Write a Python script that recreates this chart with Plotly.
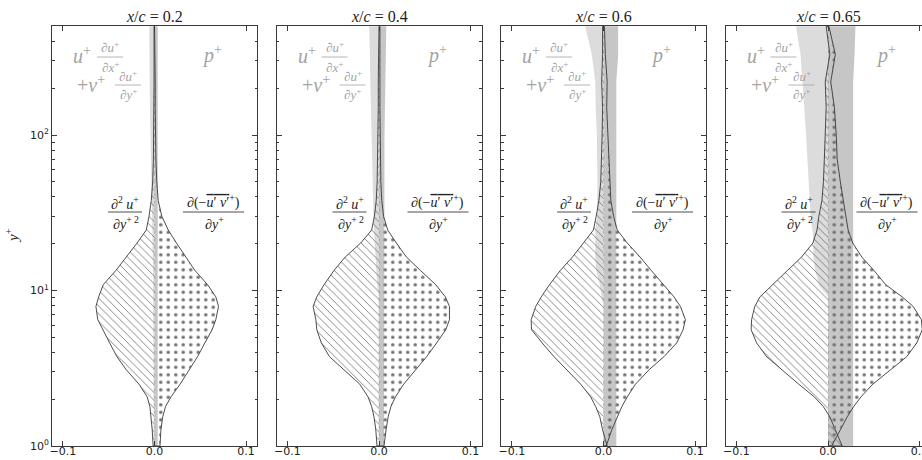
import plotly.graph_objects as go

# ---------------- data ----------------
Y_PLUS = [1.0, 1.27, 1.54, 1.79, 2.07, 2.5, 3.1, 3.75, 4.6, 5.6, 6.5, 7.9, 9.1, 10.9,
          13.5, 16.4, 20.2, 24.5, 30, 38, 50, 70, 100, 150, 220, 330, 500]

PANEL_TITLES = ["0.2", "0.4", "0.6", "0.65"]

# viscous term  d2u+/dy+2
VISC_02 = [-0.0015, -0.0025, -0.0035, -0.005, -0.008, -0.017, -0.031, -0.041, -0.049, -0.056,
           -0.062, -0.064, -0.061, -0.056, -0.042, -0.031, -0.019, -0.009, -0.006, -0.0035,
           -0.002, -0.0012, -0.0008, -0.0006, -0.0005, -0.0005, -0.0005]
VISC_04 = [-0.0022, -0.0035, -0.0055, -0.008, -0.012, -0.021, -0.039, -0.054, -0.063, -0.068,
           -0.069, -0.072, -0.068, -0.060, -0.049, -0.037, -0.020, -0.008, -0.005, -0.003,
           -0.002, -0.0015, -0.001, -0.0008, -0.0008, -0.0007, -0.0007]
VISC_06 = [0.004, -0.001, -0.004, -0.0085, -0.014, -0.025, -0.041, -0.054, -0.067, -0.0787,
           -0.079, -0.074, -0.068, -0.059, -0.047, -0.034, -0.022, -0.011, -0.008, -0.005,
           -0.003, -0.002, -0.0015, -0.001, -0.002, -0.001, -0.001]
VISC_065 = [0.0155, 0.008, 0.002, -0.005, -0.015, -0.032, -0.050, -0.067, -0.078, -0.084,
            -0.0835, -0.080, -0.0744, -0.060, -0.044, -0.029, -0.0165, -0.012, -0.010, -0.0066,
            -0.005, -0.004, -0.003, -0.002, -0.003, 0.002, -0.002]

# Reynolds-stress term  d(-u'v'+)/dy+
REY_02 = [0.006, 0.007, 0.009, 0.012, 0.018, 0.028, 0.038, 0.047, 0.055, 0.063,
          0.067, 0.070, 0.067, 0.058, 0.044, 0.034, 0.024, 0.015, 0.008, 0.004,
          0.0025, 0.0015, 0.001, 0.0008, 0.0008, 0.0007, 0.0007]
REY_04 = [0.0055, 0.0077, 0.010, 0.013, 0.018, 0.027, 0.040, 0.052, 0.063, 0.073,
          0.077, 0.077, 0.0725, 0.062, 0.045, 0.030, 0.019, 0.0095, 0.005, 0.003,
          0.002, 0.0015, 0.0012, 0.001, 0.001, 0.001, 0.001]
REY_06 = [0.003, 0.009, 0.0147, 0.020, 0.026, 0.035, 0.050, 0.066, 0.080, 0.087,
          0.0895, 0.084, 0.077, 0.066, 0.052, 0.040, 0.026, 0.015, 0.011, 0.008,
          0.007, 0.006, 0.0045, 0.0035, 0.004, 0.002, 0.001]
REY_065 = [0.004, 0.0135, 0.021, 0.028, 0.036, 0.049, 0.068, 0.086, 0.097, 0.103,
           0.102, 0.093, 0.081, 0.063, 0.050, 0.037, 0.027, 0.022, 0.0195, 0.0165,
           0.0135, 0.010, 0.009, 0.007, 0.003, 0.008, 0.001]

# convection term  u+ du+/dx+ + v+ du+/dy+
CONV_02 = [-0.001, -0.001, -0.001, -0.001, -0.001, -0.001, -0.001, -0.001, -0.001, -0.001,
           -0.0015, -0.0015, -0.0015, -0.0015, -0.0015, -0.002, -0.002, -0.002, -0.0025, -0.003,
           -0.0035, -0.004, -0.0045, -0.005, -0.0052, -0.0055, -0.0057]
CONV_04 = [-0.0005, -0.0005, -0.0005, -0.0005, -0.0005, -0.0005, -0.0005, -0.0005, -0.0005, -0.0005,
           -0.0005, -0.0005, -0.0005, -0.002, -0.003, -0.004, -0.005, -0.0055, -0.006, -0.0065,
           -0.007, -0.0075, -0.008, -0.009, -0.0095, -0.010, -0.0107]
CONV_06 = [0.0, 0.0, 0.0, 0.0, 0.0, 0.0, 0.0, 0.0, 0.0, 0.0,
           0.0, 0.0, -0.002, -0.004, -0.008, -0.009, -0.009, -0.009, -0.007, -0.0066,
           -0.0066, -0.007, -0.0073, -0.0085, -0.009, -0.0128, -0.020]
CONV_065 = [0.0, 0.0, 0.0, 0.0, 0.0, 0.0, 0.0, 0.0, 0.0, 0.0,
            0.0, 0.0, 0.0, -0.010, -0.014, -0.016, -0.016, -0.017, -0.019, -0.020,
            -0.021, -0.022, -0.024, -0.026, -0.028, -0.030, -0.035]

# pressure term  p+
PRES_02 = [0.0035, 0.0035, 0.0035, 0.0035, 0.0035, 0.0035, 0.0035, 0.0035, 0.0035, 0.0035,
           0.0035, 0.0035, 0.0035, 0.0035, 0.0035, 0.0035, 0.0035, 0.0035, 0.0035, 0.0035,
           0.0035, 0.0035, 0.0035, 0.0035, 0.0035, 0.0035, 0.0035]
PRES_04 = [0.0055, 0.0055, 0.0055, 0.0055, 0.0055, 0.0055, 0.0055, 0.0055, 0.0055, 0.0055,
           0.0055, 0.0055, 0.0055, 0.0055, 0.0055, 0.0055, 0.0055, 0.0055, 0.0055, 0.0055,
           0.0055, 0.0055, 0.006, 0.0065, 0.007, 0.0075, 0.008]
PRES_06 = [0.014, 0.014, 0.014, 0.014, 0.014, 0.014, 0.014, 0.014, 0.014, 0.014,
           0.014, 0.014, 0.014, 0.014, 0.014, 0.014, 0.014, 0.014, 0.014, 0.014,
           0.014, 0.014, 0.014, 0.014, 0.014, 0.016, 0.016]
PRES_065 = [0.0275, 0.0275, 0.0275, 0.0275, 0.0275, 0.0275, 0.0275, 0.0275, 0.0275, 0.0275,
            0.0275, 0.0275, 0.0275, 0.0275, 0.0275, 0.0275, 0.0275, 0.0275, 0.0275, 0.0275,
            0.0275, 0.0275, 0.0275, 0.0275, 0.0275, 0.029, 0.030]

PANELS = [
    (VISC_02, REY_02, CONV_02, PRES_02),
    (VISC_04, REY_04, CONV_04, PRES_04),
    (VISC_06, REY_06, CONV_06, PRES_06),
    (VISC_065, REY_065, CONV_065, PRES_065),
]

X_TICKS = [-0.1, 0.0, 0.1]
X_TICKTEXT = ["\u22120.1", "0.0", "0.1"]
Y_TICKS = [1, 10, 100]
Y_TICKTEXT = ["10<sup>0</sup>", "10<sup>1</sup>", "10<sup>2</sup>"]
Y_MINOR = [2, 3, 4, 5, 6, 7, 8, 9, 20, 30, 40, 50, 60, 70, 80, 90, 200, 300, 400, 500]

# ---------------- layout geometry ----------------
W, H = 936, 460
ML, MR, MT, MB = 52, 5, 26, 14
PW = W - ML - MR          # plotting width in px
PANEL_W = 205.0
STEP = 224.5
PANEL_H = H - MT - MB

SERIF = "Liberation Serif, Times New Roman, DejaVu Serif, serif"
SANS = "DejaVu Sans"
FRAME = "#3a3a3a"

fig = go.Figure()


def closed(xs):
    return [0.0] + list(xs) + [0.0], [Y_PLUS[0]] + list(Y_PLUS) + [Y_PLUS[-1]]


for i, (visc, rey, conv, pres) in enumerate(PANELS):
    xa = "x" if i == 0 else f"x{i+1}"
    ya = "y" if i == 0 else f"y{i+1}"
    # convection (light grey)
    xs, ys = closed(conv)
    fig.add_trace(go.Scatter(x=xs, y=ys, xaxis=xa, yaxis=ya, mode="lines", fill="toself",
                             fillcolor="#dcdcdc", line=dict(width=0, color="rgba(0,0,0,0)"),
                             hoverinfo="skip", showlegend=False))
    # pressure (darker grey)
    xs, ys = closed(pres)
    fig.add_trace(go.Scatter(x=xs, y=ys, xaxis=xa, yaxis=ya, mode="lines", fill="toself",
                             fillcolor="#c6c6c6", line=dict(width=0, color="rgba(0,0,0,0)"),
                             hoverinfo="skip", showlegend=False))
    # viscous (hatched)
    xs, ys = closed(visc)
    fig.add_trace(go.Scatter(x=xs, y=ys, xaxis=xa, yaxis=ya, mode="lines", fill="toself",
                             fillcolor="rgba(0,0,0,0)",
                             fillpattern=dict(shape="\\", size=5.5, solidity=0.14,
                                              fgcolor="#666666", bgcolor="rgba(0,0,0,0)",
                                              fillmode="replace"),
                             line=dict(width=0.9, color=FRAME),
                             hoverinfo="skip", showlegend=False))
    # Reynolds stress (dots)
    xs, ys = closed(rey)
    fig.add_trace(go.Scatter(x=xs, y=ys, xaxis=xa, yaxis=ya, mode="lines", fill="toself",
                             fillcolor="rgba(0,0,0,0)",
                             fillpattern=dict(shape=".", size=7.5, solidity=0.17,
                                              fgcolor="#707070", bgcolor="rgba(0,0,0,0)",
                                              fillmode="replace"),
                             line=dict(width=0.9, color=FRAME),
                             hoverinfo="skip", showlegend=False))

layout = dict(width=W, height=H, margin=dict(l=ML, r=MR, t=MT, b=MB, autoexpand=False),
              paper_bgcolor="white", plot_bgcolor="white", showlegend=False)

for i in range(4):
    x0 = (STEP * i) / PW
    x1 = min(1.0, (STEP * i + PANEL_W) / PW)
    xkey = "xaxis" if i == 0 else f"xaxis{i+1}"
    ykey = "yaxis" if i == 0 else f"yaxis{i+1}"
    layout[xkey] = dict(domain=[x0, x1], range=[-0.112, 0.112], anchor="y" if i == 0 else f"y{i+1}",
                        tickmode="array", tickvals=X_TICKS, ticktext=X_TICKTEXT,
                        ticks="inside", ticklen=5, tickwidth=1, tickcolor=FRAME,
                        ticklabelstandoff=-5,
                        showline=True, linecolor=FRAME, linewidth=1, mirror="allticks",
                        showgrid=False, zeroline=False, automargin=False,
                        tickfont=dict(family=SANS, size=11, color="#222"))
    layout[ykey] = dict(domain=[0, 1], type="log", range=[0, 2.701],
                        anchor="x" if i == 0 else f"x{i+1}",
                        tickmode="array", tickvals=Y_TICKS, ticktext=Y_TICKTEXT,
                        showticklabels=(i == 0),
                        ticks="inside", ticklen=5, tickwidth=1, tickcolor=FRAME,
                        minor=dict(tickmode="array", tickvals=Y_MINOR, ticks="inside",
                                   ticklen=2.5, tickwidth=1, tickcolor=FRAME, showgrid=False),
                        showline=True, linecolor=FRAME, linewidth=1, mirror="allticks",
                        showgrid=False, zeroline=False, automargin=False,
                        tickfont=dict(family=SANS, size=11, color="#222"))

fig.update_layout(**layout)

annotations = []
shapes = []


def dx(rel_px):
    return rel_px / PANEL_W


def dy(py):
    return (H - MB - py) / PANEL_H


def add_text(i, rel_px, py, text, size, color):
    xr = "x domain" if i == 0 else f"x{i+1} domain"
    yr = "y domain" if i == 0 else f"y{i+1} domain"
    annotations.append(dict(x=dx(rel_px), y=dy(py), xref=xr, yref=yr, text=text, showarrow=False,
                            xanchor="center", yanchor="middle",
                            font=dict(family=SERIF, size=size, color=color)))


def add_bar(i, rel0, rel1, py, color):
    xr = "x domain" if i == 0 else f"x{i+1} domain"
    yr = "y domain" if i == 0 else f"y{i+1} domain"
    shapes.append(dict(type="line", xref=xr, yref=yr, x0=dx(rel0), x1=dx(rel1), y0=dy(py), y1=dy(py),
                       line=dict(color=color, width=0.8)))


GREY = "#a3a3a3"
DARK = "#222222"
OVER = "<span style='text-decoration:overline'><i>u</i>\u2032 <i>v</i>\u2032</span>"

for i, t in enumerate(PANEL_TITLES):
    # panel title
    add_text(i, PANEL_W / 2, 16, f"<i>x</i>/<i>c</i> = {t}", 16, DARK)
    # convection label (grey)
    add_text(i, 30, 55, "<i>u</i><sup>+</sup>", 20, GREY)
    add_text(i, 58, 47, "\u2202<i>u</i><sup>+</sup>", 13, GREY)
    add_bar(i, 45, 71, 57, GREY)
    add_text(i, 58, 67, "\u2202<i>x</i><sup>+</sup>", 13, GREY)
    add_text(i, 39, 84, "+<i>v</i><sup>+</sup>", 20, GREY)
    add_text(i, 76, 76, "\u2202<i>u</i><sup>+</sup>", 13, GREY)
    add_bar(i, 63, 89, 85, GREY)
    add_text(i, 76, 94, "\u2202<i>y</i><sup>+</sup>", 13, GREY)
    # pressure label
    add_text(i, 160, 55, "<i>p</i><sup>+</sup>", 20, GREY)
    # viscous label
    add_text(i, 73, 203, "\u2202<sup>2</sup> <i>u</i><sup>+</sup>", 14, DARK)
    add_bar(i, 56, 90, 212, DARK)
    add_text(i, 74, 223, "\u2202<i>y</i><sup>+ 2</sup>", 14, DARK)
    # Reynolds-stress label
    add_text(i, 161, 202, "\u2202(\u2212" + OVER + "<sup>+</sup>)", 14, DARK)
    add_bar(i, 131, 192, 212, DARK)
    add_text(i, 162, 223, "\u2202<i>y</i><sup>+</sup>", 14, DARK)

# y-axis label
annotations.append(dict(x=(12 - ML) / PW, y=0.5, xref="paper", yref="paper",
                        text="<i>y</i><sup>+</sup>", textangle=-90, showarrow=False,
                        xanchor="center", yanchor="middle",
                        font=dict(family=SERIF, size=15, color=DARK)))

fig.update_layout(annotations=annotations, shapes=shapes)

fig.write_html("out.html",
               post_script="document.documentElement.style.overflow='hidden';"
                           "document.body.style.overflow='hidden';document.body.style.margin='0';")
